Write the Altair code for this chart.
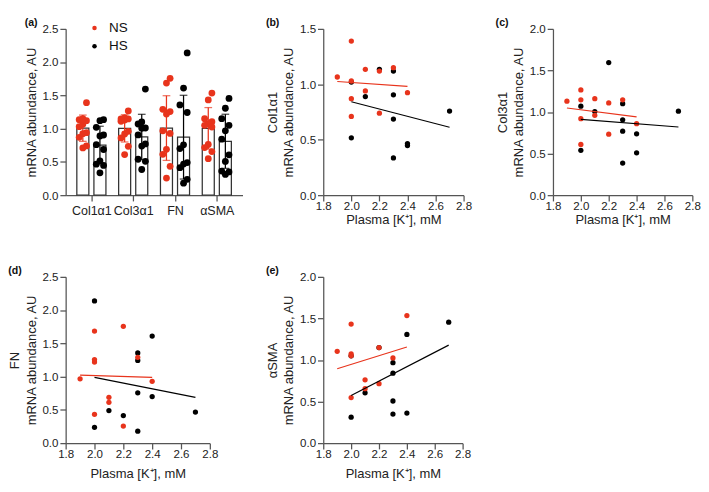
import json
import altair as alt
import pandas as pd

# ---------------- data ----------------
genes = ["Col1α1", "Col3α1", "FN", "αSMA"]
groups = ["NS", "HS"]

# plasma [K+] of each animal (mM)
k_ns = [1.9, 2.0, 2.0, 2.0, 2.0, 2.1, 2.1, 2.2, 2.2, 2.3, 2.4]
k_hs = [2.0, 2.0, 2.1, 2.2, 2.3, 2.3, 2.3, 2.3, 2.4, 2.4, 2.7]

# mRNA abundance (AU), same animal order as the K lists
col1_ns = [1.066, 1.39, 1.03, 0.87, 0.71, 1.135, 0.94, 1.12, 0.74, 1.15, 0.925]
col1_hs = [0.517, 1.02, 0.89, 1.135, 1.12, 0.905, 0.687, 0.336, 0.466, 0.448, 0.759]
col3_ns = [1.13, 1.266, 1.147, 0.92, 0.61, 1.16, 0.96, 1.11, 0.734, 1.147, 0.86]
col3_hs = [1.07, 0.54, 1.006, 1.595, 1.10, 0.906, 0.77, 0.386, 0.738, 0.509, 1.01]
fn_ns = [0.967, 1.686, 1.257, 1.219, 0.433, 0.69, 0.614, 1.757, 0.257, 1.29, 0.929]
fn_hs = [2.138, 0.238, 0.49, 0.414, 1.357, 1.243, 0.757, 0.18, 1.61, 0.70, 0.467]
sma_ns = [1.105, 1.432, 1.074, 1.05, 0.549, 0.762, 0.655, 1.15, 0.716, 1.025, 1.535]
sma_hs = [0.312, 1.05, 0.606, 1.15, 0.968, 0.842, 0.507, 0.35, 1.307, 0.362, 1.455]

panel_labels = ["(a)", "(b)", "(c)", "(d)", "(e)"]
y_max = {"Col1α1": 1.5, "Col3α1": 2.0, "FN": 2.5, "αSMA": 2.0}

ns_sets = [col1_ns, col3_ns, fn_ns, sma_ns]
hs_sets = [col1_hs, col3_hs, fn_hs, sma_hs]

rows = []
for gene, hs_vals in zip(genes, hs_sets):
    for k, v in zip(k_hs, hs_vals):
        rows.append({"gene": gene, "group": "HS", "k": k, "value": v})
for gene, ns_vals in zip(genes, ns_sets):
    for k, v in zip(k_ns, ns_vals):
        rows.append({"gene": gene, "group": "NS", "k": k, "value": v})
df = pd.DataFrame(rows)

# ---------------- style ----------------
FONT = "Liberation Sans"
RED = "#E8341C"
LINE_RED = "#EE5A48"
color_scale = alt.Scale(domain=groups, range=[RED, "#000000"])
line_scale = alt.Scale(domain=groups, range=[LINE_RED, "#333333"])

W_A, H_A = 184, 173
W_B, W_C, W_D, W_E = 146, 145, 150, 145
H_S = 173

def ticks(top):
    out, v = [], 0.0
    while v <= top + 1e-9:
        out.append(round(v, 1))
        v += 0.5
    return out

# ---------------- panel (a) ----------------
unit_px = W_A / 4.0                 # one gene slot in pixels
grp_off = 9.4 / unit_px             # NS / HS bar centre offset (layout)
jit = 4.0 / unit_px                 # dot spread (layout)
gene_js = json.dumps(genes, ensure_ascii=False)

xa_scale = alt.Scale(domain=[-0.5, 3.5], nice=False, zero=False)
xa_axis = alt.Axis(title=None, values=[0, 1, 2, 3], labelExpr=f"{gene_js}[datum.value]",
                   labelAngle=0, labelFontSize=13, labelPadding=4, labelFlush=False,
                   labelOverlap=False)
ya_axis = alt.Axis(values=ticks(2.5), format=".1f", title="mRNA abundance, AU")
ya_scale = alt.Scale(domain=[0, 2.5], nice=False)

base_a = alt.Chart(df).transform_calculate(
    pos=f"indexof({gene_js}, datum.gene) + (datum.group == 'NS' ? -{grp_off} : {grp_off})"
)

bars = base_a.mark_bar(orient="vertical", size=12.5, fill="white",
                       stroke="#333333", strokeWidth=1.3).encode(
    x=alt.X("pos:Q", scale=xa_scale, axis=xa_axis),
    y=alt.Y("mean(value):Q", scale=ya_scale, axis=ya_axis),
)

stats = base_a.transform_aggregate(
    m="mean(value)", sd="stdev(value)", groupby=["gene", "group", "pos"]
).transform_calculate(lo="datum.m - datum.sd", hi="datum.m + datum.sd")

err = stats.mark_rule(strokeWidth=1.3).encode(
    x=alt.X("pos:Q", scale=xa_scale, axis=xa_axis),
    y=alt.Y("lo:Q", scale=ya_scale, axis=ya_axis), y2="hi:Q",
    stroke=alt.Stroke("group:N", scale=color_scale, legend=None),
)
cap_hi = stats.mark_tick(size=8, thickness=1.3, orient="horizontal").encode(
    x=alt.X("pos:Q", scale=xa_scale, axis=xa_axis),
    y=alt.Y("hi:Q", scale=ya_scale, axis=ya_axis),
    fill=alt.Fill("group:N", scale=color_scale, legend=None),
)
cap_lo = stats.mark_tick(size=8, thickness=1.3, orient="horizontal").encode(
    x=alt.X("pos:Q", scale=xa_scale, axis=xa_axis),
    y=alt.Y("lo:Q", scale=ya_scale, axis=ya_axis),
    fill=alt.Fill("group:N", scale=color_scale, legend=None),
)

pts_a = base_a.transform_window(
    rank="row_number()", sort=[alt.SortField("value", order="ascending")],
    groupby=["gene", "group"],
).transform_calculate(
    px=f"datum.pos + ((datum.rank % 3) - 1) * {jit}"
).mark_circle(size=50, opacity=1).encode(
    x=alt.X("px:Q", scale=xa_scale, axis=xa_axis),
    y=alt.Y("value:Q", scale=ya_scale, axis=ya_axis),
    color=alt.Color("group:N", scale=color_scale, sort=groups,
                    legend=alt.Legend(title=None, orient="none", legendX=23, legendY=-8,
                                      symbolType="circle", symbolSize=22,
                                      labelFontSize=14, labelOffset=8, rowPadding=5,
                                      padding=0, labelFont=FONT, labelColor="#111111")),
)

panel_a = alt.layer(bars, err, cap_hi, cap_lo, pts_a).properties(
    width=W_A, height=H_A,
    title=alt.TitleParams(panel_labels[0], anchor="start", frame="bounds", offset=-7),
)

# ---------------- scatter panels ----------------
def scatter(gene, label, ymax, w, x_title_pad):
    base = alt.Chart(df).transform_filter(alt.datum.gene == gene)
    x = alt.X("k:Q", scale=alt.Scale(domain=[1.8, 2.8], nice=False, zero=False),
              axis=alt.Axis(values=[1.8, 2.0, 2.2, 2.4, 2.6, 2.8], format=".1f",
                            title="Plasma [K⁺], mM", labelPadding=0,
                            titlePadding=x_title_pad, labelFlush=False))
    y = alt.Y("value:Q", scale=alt.Scale(domain=[0, ymax], nice=False),
              axis=alt.Axis(values=ticks(ymax), format=".1f",
                            title=[gene, "mRNA abundance, AU"]))
    pts = base.mark_circle(size=30, opacity=1).encode(
        x=x, y=y, color=alt.Color("group:N", scale=color_scale, legend=None))
    reg = base.transform_regression("k", "value", groupby=["group"]).mark_line(
        strokeWidth=1.2).encode(
        x=x, y=y, stroke=alt.Stroke("group:N", scale=line_scale, legend=None))
    return alt.layer(pts, reg).properties(
        width=w, height=H_S,
        title=alt.TitleParams(label, anchor="start", frame="bounds", offset=-5),
    )

panel_b = scatter(genes[0], panel_labels[1], y_max[genes[0]], W_B, 2)
panel_c = scatter(genes[1], panel_labels[2], y_max[genes[1]], W_C, 2)
panel_d = scatter(genes[2], panel_labels[3], y_max[genes[2]], W_D, 8)
panel_e = scatter(genes[3], panel_labels[4], y_max[genes[3]], W_E, 8)

chart = alt.concat(
    panel_a, panel_b, panel_c, panel_d, panel_e,
    columns=3, spacing={"row": 40, "column": 24}, align="none",
).resolve_scale(
    color="independent"
).properties(
    padding=0
).configure(
    font=FONT
).configure_view(
    stroke=None
).configure_axis(
    grid=False,
    domainColor="#555555", domainWidth=1.3,
    tickColor="#555555", tickWidth=1.3, tickSize=6,
    labelFont=FONT, labelFontSize=12, labelColor="#222222", labelPadding=2,
    titleFont=FONT, titleFontSize=13.5, titleFontWeight="normal", titleColor="#222222",
    titlePadding=4, titleLineHeight=17,
).configure_title(
    font=FONT, fontSize=11, fontWeight="bold", color="#111111",
)

chart.save("out.html", embed_options={"renderer": "svg", "actions": False})
